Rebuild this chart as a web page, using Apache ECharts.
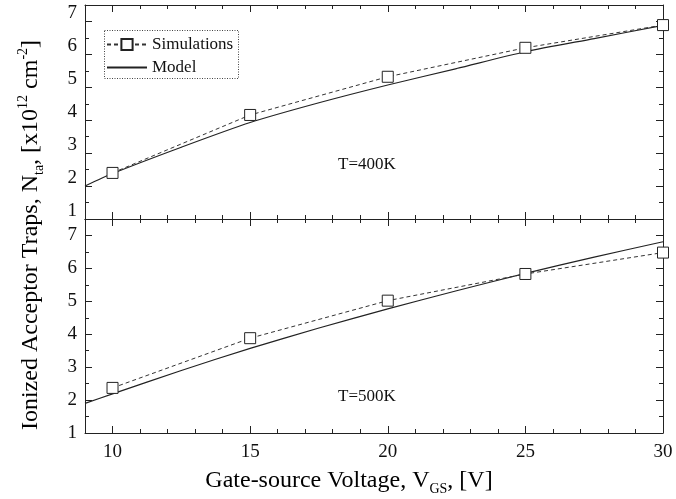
<!DOCTYPE html>
<html>
<head>
<meta charset="utf-8">
<script src="https://cdn.jsdelivr.net/npm/echarts@6/dist/echarts.min.js"></script>
<style>
  html, body { margin: 0; padding: 0; background: #fff; }
  #chart { width: 676px; height: 499px; }
</style>
</head>
<body>
<div id="chart"></div>
<script>
// values
const simVoltages = [10, 15, 20, 25, 30];
const sim400 = [2.40, 4.16, 5.32, 6.20, 6.89];
const sim500 = [2.37, 3.88, 5.02, 5.83, 6.48];

const modelVoltages = [9, 10, 12.5, 15, 17.5, 20, 22.5, 25, 27.5, 30];
const model400 = [2.00, 2.38, 3.18, 3.93, 4.53, 5.07, 5.57, 6.08, 6.48, 6.88];
const model500 = [1.90, 2.19, 2.90, 3.57, 4.19, 4.77, 5.32, 5.85, 6.34, 6.81];

const xTickLabels = [10, 15, 20, 25, 30];
const yTickLabels = [1, 2, 3, 4, 5, 6, 7];

const FONT = '"Liberation Serif", "Times New Roman", serif';
const INK = '#222';

function pairs(xs, ys) {
    return xs.map((x, i) => [x, ys[i]]);
}

function xAxisFor(gridIndex, position, showLabels) {
    return {
        type: 'value', gridIndex: gridIndex, position: position,
        min: 9, max: 30,
        axisLine: { show: true, onZero: false, lineStyle: { color: INK, width: 1 } },
        axisTick: { show: true, inside: true, length: 7, lineStyle: { color: INK } },
        minorTick: { show: true, splitNumber: 5, length: 4, lineStyle: { color: INK } },
        splitLine: { show: false },
        axisLabel: {
            show: showLabels, color: '#111', fontFamily: FONT, fontSize: 19, margin: 10,
            formatter: v => xTickLabels.includes(v) ? String(v) : ''
        }
    };
}

function yAxisFor(gridIndex, position, showLabels, shiftUp) {
    const label = {
        show: showLabels, color: '#111', fontFamily: FONT, fontSize: 19, margin: 8,
        formatter: v => yTickLabels.includes(v) ? String(v) : ''
    };
    if (shiftUp) {
        // the upper panel's numbers sit a little above their ticks
        label.verticalAlign = 'bottom';
        label.lineHeight = 16;
    }
    return {
        type: 'value', gridIndex: gridIndex, position: position,
        min: 1, max: 7.5, interval: 1,
        axisLine: { show: true, onZero: false, lineStyle: { color: INK, width: 1 } },
        axisTick: { show: true, inside: true, length: 7, lineStyle: { color: INK } },
        minorTick: { show: true, splitNumber: 2, length: 4, lineStyle: { color: INK } },
        splitLine: { show: false },
        axisLabel: label
    };
}

function simSeries(xi, yi, data) {
    return {
        name: 'Simulations', type: 'line', xAxisIndex: xi, yAxisIndex: yi,
        data: data, symbol: 'rect', symbolSize: 11, z: 3,
        lineStyle: { color: '#333', width: 1, type: [4, 3] },
        itemStyle: { color: '#fff', borderColor: INK, borderWidth: 1 }
    };
}

function modelSeries(xi, yi, data) {
    return {
        name: 'Model', type: 'line', xAxisIndex: xi, yAxisIndex: yi,
        data: data, symbol: 'none', z: 2, smooth: 0.25,
        lineStyle: { color: INK, width: 1.2 },
        itemStyle: { color: INK }
    };
}

const rich = {
    n: { fontFamily: FONT, fontSize: 24, color: '#111', lineHeight: 30 },
    sub: { fontFamily: FONT, fontSize: 14, color: '#111', lineHeight: 14, verticalAlign: 'bottom' },
    sup: { fontFamily: FONT, fontSize: 14, color: '#111', lineHeight: 14, verticalAlign: 'top' }
};

const chart = echarts.init(document.getElementById('chart'));
chart.setOption({
    animation: false,
    backgroundColor: '#fff',
    grid: [
        { left: 85, right: 13, top: 5, height: 214 },
        { left: 85, right: 13, top: 219, bottom: 66 }
    ],
    xAxis: [
        xAxisFor(0, 'bottom', false),
        xAxisFor(0, 'top', false),
        xAxisFor(1, 'bottom', true),
        xAxisFor(1, 'top', false)
    ],
    yAxis: [
        yAxisFor(0, 'left', true, true),
        yAxisFor(0, 'right', false, false),
        yAxisFor(1, 'left', true, false),
        yAxisFor(1, 'right', false, false)
    ],
    legend: {
        data: [
            'Simulations',
            { name: 'Model', itemStyle: { opacity: 0 } }
        ],
        orient: 'vertical', left: 102, top: 28,
        padding: [8, 0, 0, 4],
        itemWidth: 40, itemHeight: 14, itemGap: 6,
        textStyle: { fontFamily: FONT, fontSize: 17, color: '#111' }
    },
    graphic: [
        {
            type: 'rect', left: 102, top: 28, z: 10,
            shape: { width: 134, height: 48 },
            style: { fill: 'none', stroke: '#444', lineWidth: 1, lineDash: [1, 1.5] }
        },
        {
            type: 'text', x: 338, y: 165,
            style: { text: 'T=400K', fontFamily: FONT, fontSize: 17, fill: '#111', verticalAlign: 'middle', textVerticalAlign: 'middle' }
        },
        {
            type: 'text', x: 338, y: 397,
            style: { text: 'T=500K', fontFamily: FONT, fontSize: 17, fill: '#111', verticalAlign: 'middle', textVerticalAlign: 'middle' }
        },
        {
            type: 'text', x: 31, y: 235, rotation: Math.PI / 2,
            style: {
                text: '{n|Ionized Acceptor Traps, N}{sub|ta}{n|, [x10}{sup|12}{n| cm}{sup|-2}{n|]}',
                rich: rich, align: 'center', verticalAlign: 'middle',
                textAlign: 'center', textVerticalAlign: 'middle'
            }
        },
        {
            type: 'text', x: 349, y: 481,
            style: {
                text: '{n|Gate-source Voltage, V}{sub|GS}{n|, [V]}',
                rich: rich, align: 'center', verticalAlign: 'middle',
                textAlign: 'center', textVerticalAlign: 'middle'
            }
        }
    ],
    series: [
        modelSeries(0, 0, pairs(modelVoltages, model400)),
        simSeries(0, 0, pairs(simVoltages, sim400)),
        modelSeries(2, 2, pairs(modelVoltages, model500)),
        simSeries(2, 2, pairs(simVoltages, sim500))
    ]
});
</script>
</body>
</html>
